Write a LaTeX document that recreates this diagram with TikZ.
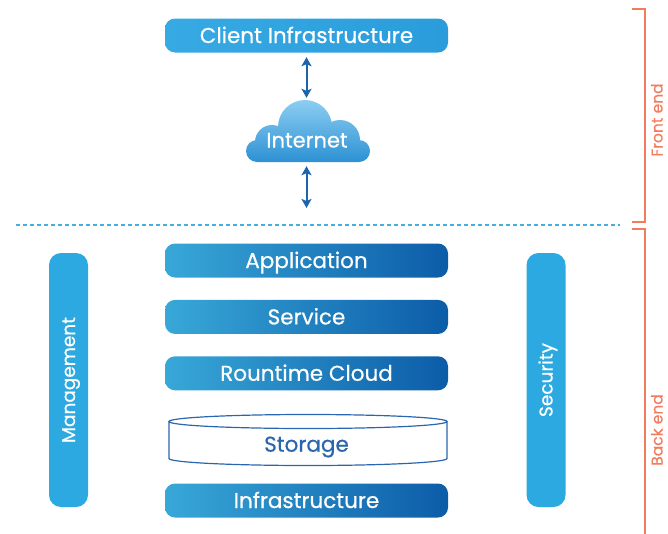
\documentclass[tikz,border=0pt]{standalone}
\usepackage{fontspec}
\setmainfont{Poppins}[FakeBold=0.5]
\definecolor{clientleft}{RGB}{55, 170, 228}
\definecolor{clientright}{RGB}{42, 156, 219}
\definecolor{layerleft}{RGB}{56, 168, 216}
\definecolor{layerright}{RGB}{12, 92, 168}
\definecolor{sideblue}{RGB}{45, 169, 225}
\definecolor{linkblue}{RGB}{30, 99, 174}
\definecolor{cloudtop}{RGB}{140, 206, 242}
\definecolor{cloudbottom}{RGB}{45, 145, 212}
\definecolor{splitblue}{RGB}{69, 174, 227}
\definecolor{bracecolor}{RGB}{242, 124, 94}
\definecolor{storeblue}{RGB}{42, 102, 174}
\usetikzlibrary{positioning, arrows.meta}

\begin{document}
\begin{tikzpicture}[x=1pt, y=1pt,
		boxtext/.style={font=\fontsize{21.5}{21.5}\selectfont, text height=19pt, text depth=4pt},
		client/.style={boxtext, rounded corners=10pt, left color=clientleft, right color=clientright, text=white, minimum height=34pt, minimum width=283pt},
		layer/.style={client, left color=layerleft, right color=layerright},
		store/.style={boxtext, minimum height=37pt, minimum width=278pt, text=storeblue, yshift=-4pt},
		side/.style={font=\fontsize{18.5}{18.5}\selectfont, text height=17pt, text depth=4pt, rounded corners=12pt, fill=sideblue, text=white, minimum height=39pt, minimum width=254pt, rotate=90},
		link/.style={{Stealth[length=9pt, width=10pt, inset=2pt]}-{Stealth[length=9pt, width=10pt, inset=2pt]}, line width=2pt, draw=linkblue},
		brace/.style={draw=bracecolor, line width=1.5pt},
		endlabel/.style={text=bracecolor, rotate=90, inner sep=0pt, text height=11pt, text depth=0pt, font=\fontsize{15.5}{15.5}\selectfont}
		]
		
		\useasboundingbox (0,0) rectangle (668,-533);
		
		\node[client] (client) at (306.5,-35.5) {Client Infrastructure};
		
		\shade[top color=cloudtop, bottom color=cloudbottom]
			(305,-127) circle (27) (272,-142) circle (17) (340,-140) circle (20)
			(257,-151) circle (11) (359,-151) circle (11) (257,-140) rectangle (359,-162);
		\node[minimum width=125pt, minimum height=62pt] (cloud) at (306.5,-131) {};
		\node[boxtext, text=white, font=\fontsize{21}{21}\selectfont] (net) at (307,-140) {Internet};
		\coordinate (split) at (306.5,-208);
		
		\draw[link, shorten <=4.5pt, shorten >=2pt] (client) -- (cloud);
		\draw[link, shorten <=4pt] (cloud.south) -- (split);
		
		\draw[splitblue, line width=1.5pt, dash pattern=on 4pt off 3pt] (16,-225) -- (620,-225);
		
		\node[layer] (app) at (306.5,-260.5) {Application};
		\node[layer, below=22pt of app] (service) {Service};
		\node[layer, below=22pt of service] (runtime) {Rountime Cloud};
		\path (runtime.south) ++(1.5,-31) coordinate (storetop);
		\draw[storeblue, line width=1.2pt] (storetop) ++(-139,0) -- ++(0,-37) arc[start angle=180, end angle=360, x radius=139pt, y radius=7pt] -- ++(0,37);
		\draw[storeblue, line width=1.2pt] (storetop) ellipse[x radius=139pt, y radius=7pt];
		\node[store, below=0pt of storetop, xshift=-1.5pt] (storage) {Storage};
		\node[layer] (infra) at (306.5,-500.5) {Infrastructure};
		
		\node[side] (mgmt) at (68.5,-380) {Management};
		\node[side] (sec) at (546,-380) {Security};
		
		\draw[brace] (632,-9) -- (645,-9) -- (645,-222) -- (632,-222);
		\draw[brace] (632,-229) -- (645,-229) -- (645,-540);
		\node[endlabel] (front) at (657,-120) {Front end};
		\node[endlabel] (back) at (657,-430) {Back end};
		
	\end{tikzpicture}
\end{document}
